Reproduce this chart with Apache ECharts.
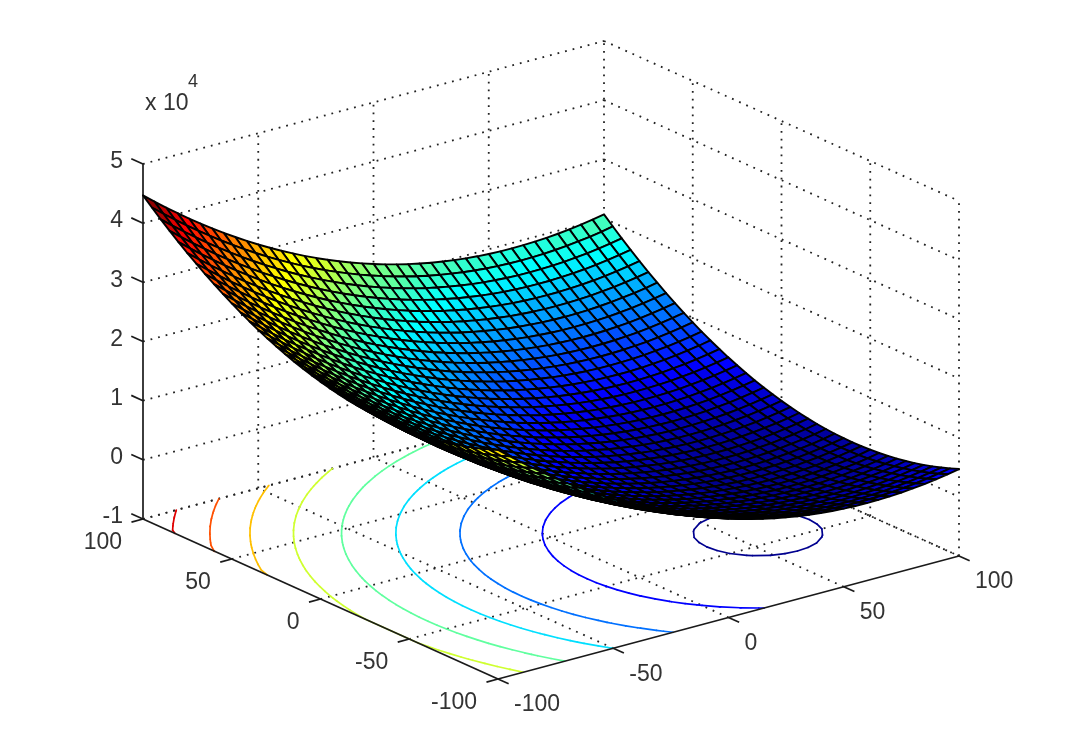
<!DOCTYPE html>
<html><head><meta charset="utf-8">
<style>html,body{margin:0;padding:0;background:#fff}#c{width:1071px;height:747px}</style>
<script src="https://cdn.jsdelivr.net/npm/echarts@6/dist/echarts.min.js"></script>
</head><body><div id="c"></div>
<script>
const meshX=[-100,-95,-90,-85,-80,-75,-70,-65,-60,-55,-50,-45,-40,-35,-30,-25,-20,-15,-10,-5,0,5,10,15,20,25,30,35,40,45,50,55,60,65,70,75,80,85,90,95,100];
const meshY=[-100,-95,-90,-85,-80,-75,-70,-65,-60,-55,-50,-45,-40,-35,-30,-25,-20,-15,-10,-5,0,5,10,15,20,25,30,35,40,45,50,55,60,65,70,75,80,85,90,95,100];
const xTicks=[-100,-50,0,50,100];
const yTicks=[-100,-50,0,50,100];
const zTicks=[-10000,0,10000,20000,30000,40000,50000];
const zTickLabels=['-1','0','1','2','3','4','5'];
const contourLevels=[0,5000,10000,15000,20000,25000,30000,35000,40000];
// one row per meshY value, one column per meshX value
const zRows=[
[28700,27125,25600,24125,22700,21325,20000,18725,17500,16325,15200,14125,13100,12125,11200,10325,9500,8725,8000,7325,6700,6125,5600,5125,4700,4325,4000,3725,3500,3325,3200,3125,3100,3125,3200,3325,3500,3725,4000,4325,4700],
[28125,26550,25025,23550,22125,20750,19425,18150,16925,15750,14625,13550,12525,11550,10625,9750,8925,8150,7425,6750,6125,5550,5025,4550,4125,3750,3425,3150,2925,2750,2625,2550,2525,2550,2625,2750,2925,3150,3425,3750,4125],
[27600,26025,24500,23025,21600,20225,18900,17625,16400,15225,14100,13025,12000,11025,10100,9225,8400,7625,6900,6225,5600,5025,4500,4025,3600,3225,2900,2625,2400,2225,2100,2025,2000,2025,2100,2225,2400,2625,2900,3225,3600],
[27125,25550,24025,22550,21125,19750,18425,17150,15925,14750,13625,12550,11525,10550,9625,8750,7925,7150,6425,5750,5125,4550,4025,3550,3125,2750,2425,2150,1925,1750,1625,1550,1525,1550,1625,1750,1925,2150,2425,2750,3125],
[26700,25125,23600,22125,20700,19325,18000,16725,15500,14325,13200,12125,11100,10125,9200,8325,7500,6725,6000,5325,4700,4125,3600,3125,2700,2325,2000,1725,1500,1325,1200,1125,1100,1125,1200,1325,1500,1725,2000,2325,2700],
[26325,24750,23225,21750,20325,18950,17625,16350,15125,13950,12825,11750,10725,9750,8825,7950,7125,6350,5625,4950,4325,3750,3225,2750,2325,1950,1625,1350,1125,950,825,750,725,750,825,950,1125,1350,1625,1950,2325],
[26000,24425,22900,21425,20000,18625,17300,16025,14800,13625,12500,11425,10400,9425,8500,7625,6800,6025,5300,4625,4000,3425,2900,2425,2000,1625,1300,1025,800,625,500,425,400,425,500,625,800,1025,1300,1625,2000],
[25725,24150,22625,21150,19725,18350,17025,15750,14525,13350,12225,11150,10125,9150,8225,7350,6525,5750,5025,4350,3725,3150,2625,2150,1725,1350,1025,750,525,350,225,150,125,150,225,350,525,750,1025,1350,1725],
[25500,23925,22400,20925,19500,18125,16800,15525,14300,13125,12000,10925,9900,8925,8000,7125,6300,5525,4800,4125,3500,2925,2400,1925,1500,1125,800,525,300,125,0,-75,-100,-75,0,125,300,525,800,1125,1500],
[25325,23750,22225,20750,19325,17950,16625,15350,14125,12950,11825,10750,9725,8750,7825,6950,6125,5350,4625,3950,3325,2750,2225,1750,1325,950,625,350,125,-50,-175,-250,-275,-250,-175,-50,125,350,625,950,1325],
[25200,23625,22100,20625,19200,17825,16500,15225,14000,12825,11700,10625,9600,8625,7700,6825,6000,5225,4500,3825,3200,2625,2100,1625,1200,825,500,225,0,-175,-300,-375,-400,-375,-300,-175,0,225,500,825,1200],
[25125,23550,22025,20550,19125,17750,16425,15150,13925,12750,11625,10550,9525,8550,7625,6750,5925,5150,4425,3750,3125,2550,2025,1550,1125,750,425,150,-75,-250,-375,-450,-475,-450,-375,-250,-75,150,425,750,1125],
[25100,23525,22000,20525,19100,17725,16400,15125,13900,12725,11600,10525,9500,8525,7600,6725,5900,5125,4400,3725,3100,2525,2000,1525,1100,725,400,125,-100,-275,-400,-475,-500,-475,-400,-275,-100,125,400,725,1100],
[25125,23550,22025,20550,19125,17750,16425,15150,13925,12750,11625,10550,9525,8550,7625,6750,5925,5150,4425,3750,3125,2550,2025,1550,1125,750,425,150,-75,-250,-375,-450,-475,-450,-375,-250,-75,150,425,750,1125],
[25200,23625,22100,20625,19200,17825,16500,15225,14000,12825,11700,10625,9600,8625,7700,6825,6000,5225,4500,3825,3200,2625,2100,1625,1200,825,500,225,0,-175,-300,-375,-400,-375,-300,-175,0,225,500,825,1200],
[25325,23750,22225,20750,19325,17950,16625,15350,14125,12950,11825,10750,9725,8750,7825,6950,6125,5350,4625,3950,3325,2750,2225,1750,1325,950,625,350,125,-50,-175,-250,-275,-250,-175,-50,125,350,625,950,1325],
[25500,23925,22400,20925,19500,18125,16800,15525,14300,13125,12000,10925,9900,8925,8000,7125,6300,5525,4800,4125,3500,2925,2400,1925,1500,1125,800,525,300,125,0,-75,-100,-75,0,125,300,525,800,1125,1500],
[25725,24150,22625,21150,19725,18350,17025,15750,14525,13350,12225,11150,10125,9150,8225,7350,6525,5750,5025,4350,3725,3150,2625,2150,1725,1350,1025,750,525,350,225,150,125,150,225,350,525,750,1025,1350,1725],
[26000,24425,22900,21425,20000,18625,17300,16025,14800,13625,12500,11425,10400,9425,8500,7625,6800,6025,5300,4625,4000,3425,2900,2425,2000,1625,1300,1025,800,625,500,425,400,425,500,625,800,1025,1300,1625,2000],
[26325,24750,23225,21750,20325,18950,17625,16350,15125,13950,12825,11750,10725,9750,8825,7950,7125,6350,5625,4950,4325,3750,3225,2750,2325,1950,1625,1350,1125,950,825,750,725,750,825,950,1125,1350,1625,1950,2325],
[26700,25125,23600,22125,20700,19325,18000,16725,15500,14325,13200,12125,11100,10125,9200,8325,7500,6725,6000,5325,4700,4125,3600,3125,2700,2325,2000,1725,1500,1325,1200,1125,1100,1125,1200,1325,1500,1725,2000,2325,2700],
[27125,25550,24025,22550,21125,19750,18425,17150,15925,14750,13625,12550,11525,10550,9625,8750,7925,7150,6425,5750,5125,4550,4025,3550,3125,2750,2425,2150,1925,1750,1625,1550,1525,1550,1625,1750,1925,2150,2425,2750,3125],
[27600,26025,24500,23025,21600,20225,18900,17625,16400,15225,14100,13025,12000,11025,10100,9225,8400,7625,6900,6225,5600,5025,4500,4025,3600,3225,2900,2625,2400,2225,2100,2025,2000,2025,2100,2225,2400,2625,2900,3225,3600],
[28125,26550,25025,23550,22125,20750,19425,18150,16925,15750,14625,13550,12525,11550,10625,9750,8925,8150,7425,6750,6125,5550,5025,4550,4125,3750,3425,3150,2925,2750,2625,2550,2525,2550,2625,2750,2925,3150,3425,3750,4125],
[28700,27125,25600,24125,22700,21325,20000,18725,17500,16325,15200,14125,13100,12125,11200,10325,9500,8725,8000,7325,6700,6125,5600,5125,4700,4325,4000,3725,3500,3325,3200,3125,3100,3125,3200,3325,3500,3725,4000,4325,4700],
[29325,27750,26225,24750,23325,21950,20625,19350,18125,16950,15825,14750,13725,12750,11825,10950,10125,9350,8625,7950,7325,6750,6225,5750,5325,4950,4625,4350,4125,3950,3825,3750,3725,3750,3825,3950,4125,4350,4625,4950,5325],
[30000,28425,26900,25425,24000,22625,21300,20025,18800,17625,16500,15425,14400,13425,12500,11625,10800,10025,9300,8625,8000,7425,6900,6425,6000,5625,5300,5025,4800,4625,4500,4425,4400,4425,4500,4625,4800,5025,5300,5625,6000],
[30725,29150,27625,26150,24725,23350,22025,20750,19525,18350,17225,16150,15125,14150,13225,12350,11525,10750,10025,9350,8725,8150,7625,7150,6725,6350,6025,5750,5525,5350,5225,5150,5125,5150,5225,5350,5525,5750,6025,6350,6725],
[31500,29925,28400,26925,25500,24125,22800,21525,20300,19125,18000,16925,15900,14925,14000,13125,12300,11525,10800,10125,9500,8925,8400,7925,7500,7125,6800,6525,6300,6125,6000,5925,5900,5925,6000,6125,6300,6525,6800,7125,7500],
[32325,30750,29225,27750,26325,24950,23625,22350,21125,19950,18825,17750,16725,15750,14825,13950,13125,12350,11625,10950,10325,9750,9225,8750,8325,7950,7625,7350,7125,6950,6825,6750,6725,6750,6825,6950,7125,7350,7625,7950,8325],
[33200,31625,30100,28625,27200,25825,24500,23225,22000,20825,19700,18625,17600,16625,15700,14825,14000,13225,12500,11825,11200,10625,10100,9625,9200,8825,8500,8225,8000,7825,7700,7625,7600,7625,7700,7825,8000,8225,8500,8825,9200],
[34125,32550,31025,29550,28125,26750,25425,24150,22925,21750,20625,19550,18525,17550,16625,15750,14925,14150,13425,12750,12125,11550,11025,10550,10125,9750,9425,9150,8925,8750,8625,8550,8525,8550,8625,8750,8925,9150,9425,9750,10125],
[35100,33525,32000,30525,29100,27725,26400,25125,23900,22725,21600,20525,19500,18525,17600,16725,15900,15125,14400,13725,13100,12525,12000,11525,11100,10725,10400,10125,9900,9725,9600,9525,9500,9525,9600,9725,9900,10125,10400,10725,11100],
[36125,34550,33025,31550,30125,28750,27425,26150,24925,23750,22625,21550,20525,19550,18625,17750,16925,16150,15425,14750,14125,13550,13025,12550,12125,11750,11425,11150,10925,10750,10625,10550,10525,10550,10625,10750,10925,11150,11425,11750,12125],
[37200,35625,34100,32625,31200,29825,28500,27225,26000,24825,23700,22625,21600,20625,19700,18825,18000,17225,16500,15825,15200,14625,14100,13625,13200,12825,12500,12225,12000,11825,11700,11625,11600,11625,11700,11825,12000,12225,12500,12825,13200],
[38325,36750,35225,33750,32325,30950,29625,28350,27125,25950,24825,23750,22725,21750,20825,19950,19125,18350,17625,16950,16325,15750,15225,14750,14325,13950,13625,13350,13125,12950,12825,12750,12725,12750,12825,12950,13125,13350,13625,13950,14325],
[39500,37925,36400,34925,33500,32125,30800,29525,28300,27125,26000,24925,23900,22925,22000,21125,20300,19525,18800,18125,17500,16925,16400,15925,15500,15125,14800,14525,14300,14125,14000,13925,13900,13925,14000,14125,14300,14525,14800,15125,15500],
[40725,39150,37625,36150,34725,33350,32025,30750,29525,28350,27225,26150,25125,24150,23225,22350,21525,20750,20025,19350,18725,18150,17625,17150,16725,16350,16025,15750,15525,15350,15225,15150,15125,15150,15225,15350,15525,15750,16025,16350,16725],
[42000,40425,38900,37425,36000,34625,33300,32025,30800,29625,28500,27425,26400,25425,24500,23625,22800,22025,21300,20625,20000,19425,18900,18425,18000,17625,17300,17025,16800,16625,16500,16425,16400,16425,16500,16625,16800,17025,17300,17625,18000],
[43325,41750,40225,38750,37325,35950,34625,33350,32125,30950,29825,28750,27725,26750,25825,24950,24125,23350,22625,21950,21325,20750,20225,19750,19325,18950,18625,18350,18125,17950,17825,17750,17725,17750,17825,17950,18125,18350,18625,18950,19325],
[44700,43125,41600,40125,38700,37325,36000,34725,33500,32325,31200,30125,29100,28125,27200,26325,25500,24725,24000,23325,22700,22125,21600,21125,20700,20325,20000,19725,19500,19325,19200,19125,19100,19125,19200,19325,19500,19725,20000,20325,20700]
];

// orthographic view of the plot box: where its front-bottom corner sits and how each data unit moves on screen
const view={ox:498,oy:679,xdx:2.305,xdy:-0.615,ydx:-1.775,ydy:-0.8,zdy:-0.005917};
const zFloor=-10000,zTop=50000;
function proj(x,y,z){
  const a=x+100,b=y+100,c=z-zFloor;
  return [view.ox+a*view.xdx+b*view.ydx, view.oy+a*view.xdy+b*view.ydy+c*view.zdy];
}
function depth(x,y,z){return -0.527*(x+100)/200-0.687*(y+100)/200+0.5*(z-zFloor)/60000;}

// MATLAB jet(64)
const jetU=[];
for(let k=1;k<=16;k++)jetU.push(k/16);
for(let k=0;k<15;k++)jetU.push(1);
for(let k=16;k>=1;k--)jetU.push(k/16);
function jetAt(a){return a>=0&&a<jetU.length?jetU[a]:0;}
const zAll=zRows.flat(),zMin=Math.min(...zAll),zMax=Math.max(...zAll);
function jet(z){
  let idx=Math.floor((z-zMin)/(zMax-zMin)*64);idx=Math.max(0,Math.min(63,idx));
  const p=idx+1;
  const c=v=>Math.round(v*255);
  return 'rgb('+c(jetAt(p-25))+','+c(jetAt(p-9))+','+c(jetAt(p+7))+')';
}

// surface cells, far ones first
const cells=[];
for(let j=0;j<meshY.length-1;j++)for(let i=0;i<meshX.length-1;i++){
  const zc=(zRows[j][i]+zRows[j][i+1]+zRows[j+1][i]+zRows[j+1][i+1])/4;
  cells.push([i,j,depth((meshX[i]+meshX[i+1])/2,(meshY[j]+meshY[j+1])/2,zc)]);
}
cells.sort((a,b)=>a[2]-b[2]);

// contour segments on the floor, from the grid
const contourNudgeX=-1;
const contourSegs=[];
contourLevels.forEach((lv,li)=>{
  const t=(a,b)=>(lv-a)/(b-a);
  for(let j=0;j<meshY.length-1;j++)for(let i=0;i<meshX.length-1;i++){
    const q=[[meshX[i],meshY[j],zRows[j][i]],[meshX[i+1],meshY[j],zRows[j][i+1]],[meshX[i+1],meshY[j+1],zRows[j+1][i+1]],[meshX[i],meshY[j+1],zRows[j+1][i]]];
    const pts=[];
    for(let k=0;k<4;k++){
      const A=q[k],B=q[(k+1)%4];
      if((A[2]<lv)!==(B[2]<lv)){const s=t(A[2],B[2]);pts.push([Math.max(-100,A[0]+s*(B[0]-A[0])+contourNudgeX),A[1]+s*(B[1]-A[1])]);}
    }
    for(let k=0;k+1<pts.length;k+=2)contourSegs.push([pts[k][0],pts[k][1],pts[k+1][0],pts[k+1][1],li]);
  }
});

// dotted grid on floor and the two back walls
const gridSegs=[];
const xn=xTicks[0],xm=xTicks[xTicks.length-1],yn=yTicks[0],ym=yTicks[yTicks.length-1];
xTicks.forEach(x=>{
  if(x>xn)gridSegs.push([x,yn,zFloor,x,ym,zFloor]);
  if(x>xn)gridSegs.push([x,ym,zFloor,x,ym,zTop]);
});
yTicks.forEach(y=>{
  if(y>yn)gridSegs.push([xn,y,zFloor,xm,y,zFloor]);
  if(y<ym)gridSegs.push([xm,y,zFloor,xm,y,zTop]);
});
zTicks.forEach(z=>{
  gridSegs.push([xn,ym,z,xm,ym,z]);
  gridSegs.push([xm,ym,z,xm,yn,z]);
});

// solid axes and tick marks
const axisSegs=[[xn,yn,zFloor,xm,yn,zFloor],[xn,yn,zFloor,xn,ym,zFloor],[xn,ym,zFloor,xn,ym,zTop]];
const tickSegs=[];
xTicks.forEach(x=>tickSegs.push([x,yn,zFloor,x,yn-6,zFloor]));
yTicks.forEach(y=>tickSegs.push([xn,y,zFloor,xn-5,y,zFloor]));
zTicks.forEach(z=>tickSegs.push([xn,ym,z,xn,ym+6.6,z]));
const solidSegs=axisSegs.concat(tickSegs);

const font='23px "Liberation Sans", Arial, sans-serif';
const txtColor='#333333';
const labels=[];
xTicks.forEach(x=>{const p=proj(x,yn,zFloor);labels.push([p[0]+16,p[1]+26,String(x),'left',font]);});
yTicks.forEach(y=>{const p=proj(xn,y,zFloor);labels.push([p[0]-21,p[1]+24,String(y),'right',font]);});
zTicks.forEach((z,i)=>{const p=proj(xn,ym,z);labels.push([p[0]-20,p[1]-2,zTickLabels[i],'right',font]);});
labels.push([145,104,'x 10','left',font]);
labels.push([188,82,'4','left','18px "Liberation Sans", Arial, sans-serif']);

const chart=echarts.init(document.getElementById('c'),null,{renderer:'canvas'});
const base={type:'custom',coordinateSystem:'cartesian2d',silent:true,animation:false,clip:false};
function seg3(api,item,style){
  const a=api.coord(proj(item[0],item[1],item[2])),b=api.coord(proj(item[3],item[4],item[5]));
  return {type:'line',shape:{x1:a[0],y1:a[1],x2:b[0],y2:b[1]},style:style};
}
chart.setOption({
  backgroundColor:'#ffffff',
  animation:false,
  grid:{left:0,right:0,top:0,bottom:0},
  xAxis:{type:'value',min:0,max:1071,show:false},
  yAxis:{type:'value',min:0,max:747,inverse:true,show:false},
  series:[
    Object.assign({},base,{name:'grid',data:gridSegs.map((s,i)=>[i]),
      renderItem:(p,api)=>seg3(api,gridSegs[api.value(0)],{stroke:'#222',lineWidth:1.8,lineDash:[1.8,6],fill:null})}),
    Object.assign({},base,{name:'contours',data:contourSegs.map((s,i)=>[i]),
      renderItem:(p,api)=>{
        const s=contourSegs[api.value(0)],a=api.coord(proj(s[0],s[1],zFloor)),b=api.coord(proj(s[2],s[3],zFloor));
        return {type:'line',shape:{x1:a[0],y1:a[1],x2:b[0],y2:b[1]},style:{stroke:jet(contourLevels[s[4]]),lineWidth:1.7,lineCap:'round',fill:null}};
      }}),
    Object.assign({},base,{name:'axes',data:solidSegs.map((s,i)=>[i]),
      renderItem:(p,api)=>seg3(api,solidSegs[api.value(0)],{stroke:'#1a1a1a',lineWidth:1.7,fill:null})}),
    Object.assign({},base,{name:'surface',data:cells,
      renderItem:(p,api)=>{
        const i=api.value(0),j=api.value(1);
        const v=[[i,j],[i+1,j],[i+1,j+1],[i,j+1]].map(c=>api.coord(proj(meshX[c[0]],meshY[c[1]],zRows[c[1]][c[0]])));
        return {type:'polygon',shape:{points:v},style:{fill:jet(zRows[j][i]),stroke:'#000',lineWidth:1.9,lineJoin:'round'}};
      }}),
    Object.assign({},base,{name:'labels',data:labels.map((s,i)=>[i]),
      renderItem:(p,api)=>{
        const l=labels[api.value(0)],a=api.coord([l[0],l[1]]);
        return {type:'text',style:{text:l[2],x:a[0],y:a[1],align:l[3],verticalAlign:'middle',font:l[4],fill:txtColor}};
      }})
  ]
});
</script></body></html>
